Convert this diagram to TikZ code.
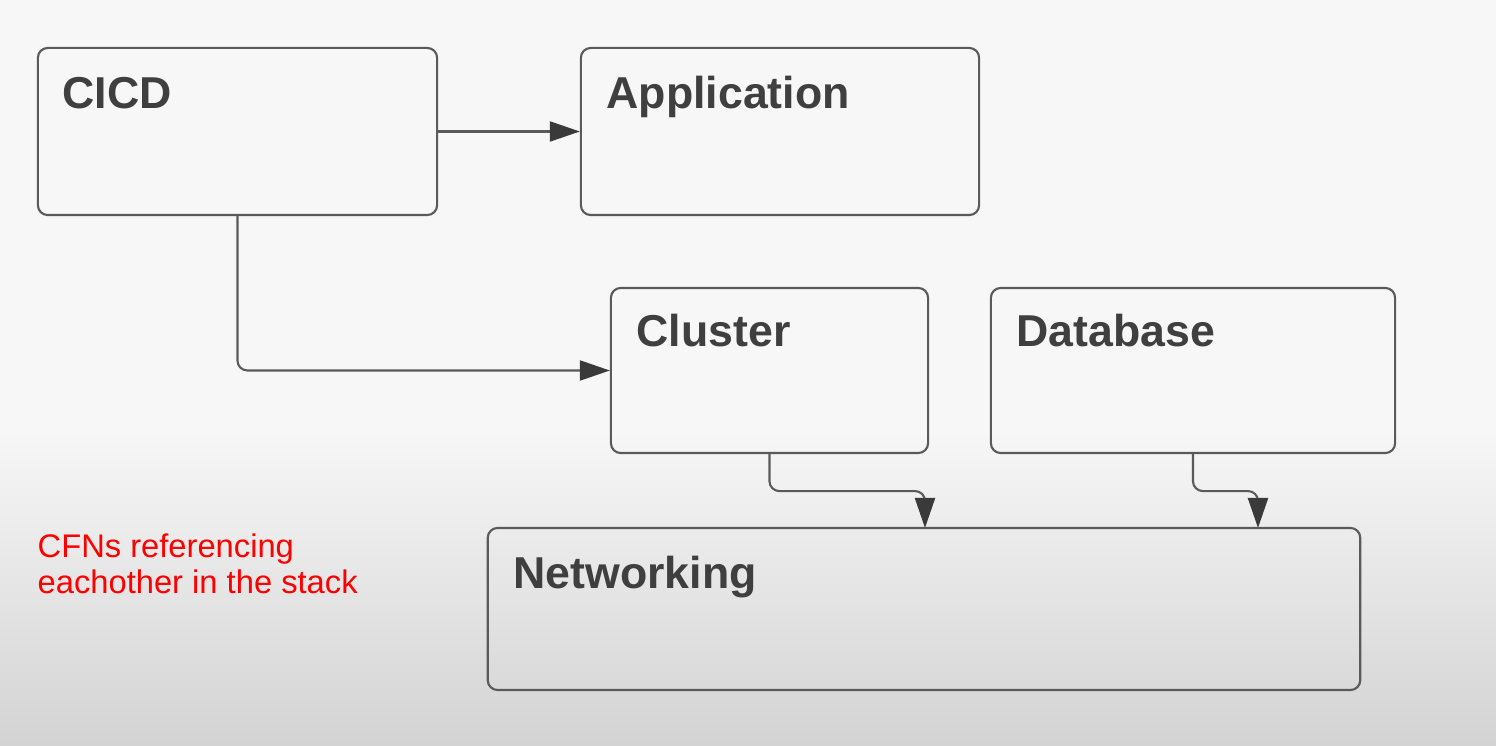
\documentclass[tikz,border=0pt]{standalone}
\usepackage{fontspec}
\setmainfont{Liberation Sans}
\usetikzlibrary{arrows.meta}
\definecolor{edgegray}{HTML}{5A5A5A}
\definecolor{tipgray}{HTML}{3A3A3A}
\definecolor{textgray}{HTML}{3F3F3F}
\definecolor{bgtop}{HTML}{F7F7F7}
\definecolor{bgbottom}{HTML}{D3D3D3}
\definecolor{notered}{HTML}{FF0000}

\begin{document}
\begin{tikzpicture}[x=0.01cm,y=-0.01cm,block/.style={rectangle,draw=edgegray,line width=0.6pt,rounded corners=2.8pt,inner sep=0pt},lbl/.style={anchor=base west,inner sep=0pt,text=textgray,font=\fontsize{12.7}{15}\selectfont\bfseries},ref/.style={draw=edgegray,line width=0.6pt,rounded corners=2.8pt,-{Triangle[length=0.3cm,width=0.2cm,color=tipgray]}}]
\useasboundingbox (0,0) rectangle (1496,746);
\fill[bgtop] (0,0) rectangle (1496,746);
\shade[top color=bgtop,bottom color=bgbottom] (0,430) rectangle (1496,746);
\node[block,minimum width=3.99cm,minimum height=1.67cm] (cicd) at (237.5,131.5) {};
\node[block,minimum width=3.98cm,minimum height=1.67cm] (app) at (780,131.5) {};
\node[block,minimum width=3.17cm,minimum height=1.65cm] (cluster) at (769.5,370.5) {};
\node[block,minimum width=4.04cm,minimum height=1.65cm] (db) at (1193,370.5) {};
\node[block,minimum width=8.72cm,minimum height=1.62cm] (net) at (924,609) {};
\node[lbl] (cicd-lbl) at ([shift={(0.25cm,-0.62cm)}]cicd.north west) {CICD};
\node[lbl] (app-lbl) at ([shift={(0.26cm,-0.62cm)}]app.north west) {Application};
\node[lbl] (cluster-lbl) at ([shift={(0.26cm,-0.60cm)}]cluster.north west) {Cluster};
\node[lbl] (db-lbl) at ([shift={(0.26cm,-0.60cm)}]db.north west) {Database};
\node[lbl] (net-lbl) at ([shift={(0.26cm,-0.62cm)}]net.north west) {Networking};
\coordinate (net-in1) at (925,528);
\coordinate (net-in2) at (1258,528);
\draw[ref] (cicd.east) -- (app.west);
\draw[ref] (cicd.south) |- (cluster.west);
\draw[ref] (cluster.south) -- ++(0,37) -| (net-in1);
\draw[ref] (db.south) -- ++(0,37) -| (net-in2);
\node[anchor=base west,inner sep=0pt,align=left,text=notered,font=\fontsize{9.3}{10.5}\selectfont] (note) at (37,594) {CFNs referencing\\eachother in the stack};
\end{tikzpicture}
\end{document}
